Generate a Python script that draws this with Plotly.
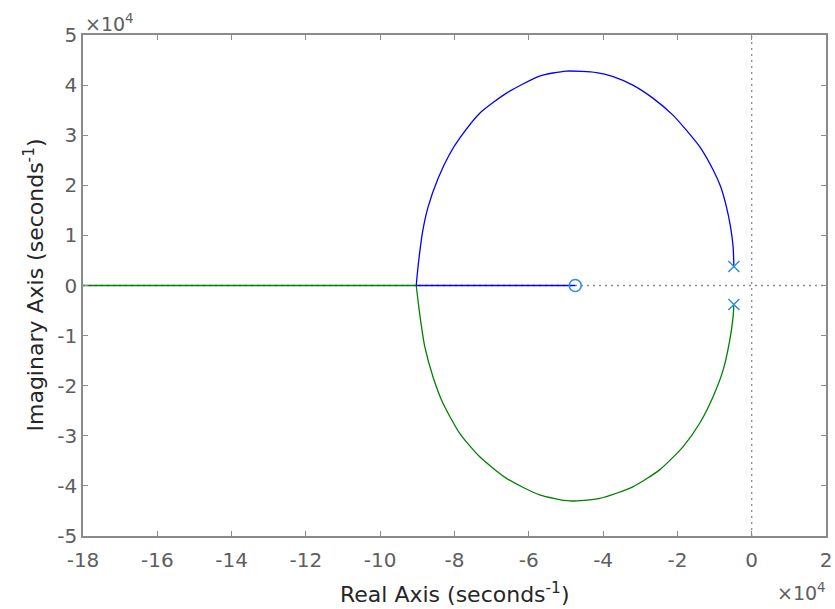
import plotly.graph_objects as go

# Values in units of 1e4 (seconds^-1)
poles_re = [-0.48, -0.48]
poles_im = [0.38, -0.38]
zeros_re = [-4.75]
zeros_im = [0.0]
breakin_re = -9.03

# Branch 1 (blue): upper pole -> around the arc -> break-in point
upper_re = [-0.48, -0.50, -0.57, -0.68, -0.84, -1.04, -1.40, -1.76, -2.12, -2.66, -3.20,
            -3.73, -4.18, -4.99, -5.71, -6.60, -7.32, -7.86, -8.14, -8.44, -8.71, -8.85,
            -8.94, -9.00, -9.03]
upper_im = [0.38, 0.77, 1.17, 1.57, 1.98, 2.31, 2.77, 3.10, 3.40, 3.74, 4.00,
            4.17, 4.25, 4.28, 4.18, 3.84, 3.44, 2.94, 2.61, 2.14, 1.57, 1.11,
            0.64, 0.24, 0.0]
# then along the real axis from the break-in point to the zero
blue_axis_re = [breakin_re, -4.75]
blue_axis_im = [0.0, 0.0]

# Branch 2 (green): lower pole -> around the arc -> break-in point
lower_re = [-0.48, -0.50, -0.59, -0.77, -1.04, -1.40, -1.85, -2.48, -3.20, -4.09,
            -4.90, -5.71, -6.60, -7.32, -7.86, -8.31, -8.58, -8.80, -8.94, -9.03]
lower_im = [-0.38, -0.62, -1.09, -1.69, -2.22, -2.75, -3.22, -3.68, -4.02, -4.25,
            -4.30, -4.18, -3.85, -3.42, -2.95, -2.35, -1.82, -1.22, -0.55, 0.0]
# then along the real axis towards -infinity
green_axis_re = [breakin_re, -18.0]
green_axis_im = [0.0, 0.0]

x_ticks = [-18, -16, -14, -12, -10, -8, -6, -4, -2, 0, 2]
y_ticks = [-5, -4, -3, -2, -1, 0, 1, 2, 3, 4, 5]

axis_gray = "#8a8a8a"
tick_gray = "#5e5e5e"
title_col = "#262626"
font_family = "DejaVu Sans, Liberation Sans, Arial, sans-serif"
BLUE = "#0000ff"
GREEN = "#008000"
MK = "#2f8fd8"

fig = go.Figure()

# dotted reference lines through the origin
fig.add_shape(type="line", xref="x", yref="y", x0=-18, x1=2, y0=0, y1=0,
              line=dict(color="#8a8a8a", width=1.3, dash="2px,4px"), layer="below")
fig.add_shape(type="line", xref="x", yref="y", x0=0, x1=0, y0=-5, y1=5,
              line=dict(color="#8a8a8a", width=1.3, dash="2px,4px"), layer="below")

fig.add_trace(go.Scatter(x=green_axis_re, y=green_axis_im, mode="lines",
                         line=dict(color=GREEN, width=1.3), showlegend=False))
fig.add_trace(go.Scatter(x=lower_re, y=lower_im, mode="lines",
                         line=dict(color=GREEN, width=1.3, shape="spline", smoothing=0.6),
                         showlegend=False))
fig.add_trace(go.Scatter(x=upper_re, y=upper_im, mode="lines",
                         line=dict(color=BLUE, width=1.3, shape="spline", smoothing=0.6),
                         showlegend=False))
fig.add_trace(go.Scatter(x=blue_axis_re, y=blue_axis_im, mode="lines",
                         line=dict(color=BLUE, width=1.3), showlegend=False))
fig.add_trace(go.Scatter(x=poles_re, y=poles_im, mode="markers",
                         marker=dict(symbol="x-thin", size=11, color=MK,
                                     line=dict(color=MK, width=1.5)),
                         showlegend=False))
fig.add_trace(go.Scatter(x=zeros_re, y=zeros_im, mode="markers",
                         marker=dict(symbol="circle-open", size=12, color=MK,
                                     line=dict(color=MK, width=1.6)),
                         showlegend=False))

axis_common = dict(showgrid=False, zeroline=False, showline=True, mirror="allticks",
                   linecolor=axis_gray, linewidth=1.5, ticks="inside", ticklen=5,
                   tickcolor=axis_gray, tickfont=dict(size=20, color=tick_gray,
                                                      family=font_family),
                   automargin=False)

fig.update_layout(
    width=835, height=609,
    margin=dict(l=83, r=9, t=35, b=73),
    paper_bgcolor="white", plot_bgcolor="white",
    font=dict(family=font_family, size=20, color=tick_gray),
    xaxis=dict(range=[-18, 2], tickvals=x_ticks, ticktext=[str(v) for v in x_ticks],
               ticklabelstandoff=5, **axis_common),
    yaxis=dict(range=[-5, 5], tickvals=y_ticks, ticktext=[str(v) for v in y_ticks],
               **axis_common),
)

# axis titles
fig.add_annotation(text="Real Axis (seconds<sup>-1</sup>)", xref="paper", yref="paper",
                   x=0.5, y=0.0, xanchor="center", yanchor="middle", yshift=-57,
                   showarrow=False, font=dict(size=22, color=title_col, family=font_family))
fig.add_annotation(text="Imaginary Axis (seconds<sup>-1</sup>)", xref="paper", yref="paper",
                   x=0.0, y=0.5, xanchor="center", yanchor="middle", xshift=-50,
                   textangle=-90, showarrow=False,
                   font=dict(size=22, color=title_col, family=font_family))

# exponent labels
fig.add_annotation(text="\u00d710<sup>4</sup>", xref="paper", yref="paper",
                   x=0.0, y=1.0, xanchor="left", yanchor="bottom", yshift=-2,
                   showarrow=False, font=dict(size=19, color=tick_gray, family=font_family))
fig.add_annotation(text="\u00d710<sup>4</sup>", xref="paper", yref="paper",
                   x=1.0, y=0.0, xanchor="right", yanchor="top", yshift=-42, xshift=2,
                   showarrow=False, font=dict(size=19, color=tick_gray, family=font_family))

fig.write_html("out.html", config={"displayModeBar": False},
               post_script="document.body.style.margin='0';document.body.style.overflow='hidden';")
